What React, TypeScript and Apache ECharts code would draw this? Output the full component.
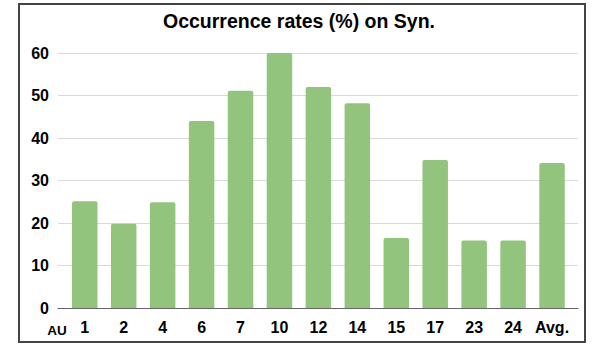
import React, { useEffect, useRef } from "react";
import * as echarts from "echarts";

const categories = ["1", "2", "4", "6", "7", "10", "12", "14", "15", "17", "23", "24", "Avg."];
const values = [25.1, 19.8, 24.9, 44.0, 51.1, 60.0, 52.0, 48.2, 16.5, 34.8, 15.9, 15.9, 34.1];
const yTicks = [0, 10, 20, 30, 40, 50, 60];
const titleText = "Occurrence rates (%) on Syn.";
const axisName = "AU";

export default function App() {
  const ref = useRef<HTMLDivElement>(null);
  useEffect(() => {
    const chart = echarts.init(ref.current!, null, { renderer: "svg" });
    const yMin = yTicks[0];
    const yMax = yTicks[yTicks.length - 1];
    chart.setOption({
      animation: false,
      backgroundColor: "#fff",
      graphic: [
        {
          type: "rect",
          shape: { x: 19, y: 4, width: 566, height: 338 },
          style: { fill: "none", stroke: "#444", lineWidth: 2 },
          z: 100,
        },
        {
          type: "text",
          x: 299,
          y: 21,
          style: {
            text: titleText,
            fontFamily: "Liberation Sans",
            fontSize: 19.5,
            fontWeight: "bold",
            fill: "#000",
            align: "center",
            verticalAlign: "middle",
          },
        },
        {
          type: "text",
          x: 57,
          y: 330,
          style: {
            text: axisName,
            fontFamily: "Liberation Sans",
            fontSize: 13.5,
            fontWeight: "bold",
            fill: "#000",
            align: "center",
            verticalAlign: "middle",
          },
        },
      ],
      grid: [
        { left: 58, right: 20, top: 53, bottom: 38, containLabel: false, outerBoundsMode: "none" },
        { left: 65.3, right: 26.5, top: 53, bottom: 38, containLabel: false, outerBoundsMode: "none" },
      ],
      xAxis: [
        {
          type: "value",
          gridIndex: 0,
          min: 0,
          max: 1,
          axisLine: { show: true, onZero: false, lineStyle: { color: "#666", width: 1.2 } },
          axisTick: { show: false },
          axisLabel: { show: false },
          splitLine: { show: false },
        },
        {
          type: "category",
          gridIndex: 1,
          data: categories,
          axisLine: { show: false },
          axisTick: { show: false },
          axisLabel: {
            interval: 0,
            fontFamily: "Liberation Sans",
            fontSize: 16,
            fontWeight: "bold",
            color: "#000",
            margin: 11,
          },
        },
      ],
      yAxis: [
        {
          type: "value",
          gridIndex: 0,
          min: yMin,
          max: yMax,
          interval: 10,
          axisLine: { show: false },
          axisTick: { show: false },
          splitLine: { lineStyle: { color: "#d9d9d9", width: 1 } },
          axisLabel: {
            fontFamily: "Liberation Sans",
            fontSize: 16,
            fontWeight: "bold",
            color: "#000",
            margin: 9,
          },
        },
        {
          type: "value",
          gridIndex: 1,
          min: yMin,
          max: yMax,
          interval: 10,
          show: false,
          splitLine: { show: false },
        },
      ],
      series: [
        {
          type: "bar",
          xAxisIndex: 1,
          yAxisIndex: 1,
          data: values,
          barWidth: 25.5,
          itemStyle: { color: "#93c47d", borderRadius: [2, 2, 0, 0] },
        },
      ],
    });
    return () => chart.dispose();
  }, []);
  return (
    <div
      ref={ref}
      style={{ position: "fixed", left: 0, top: 0, width: 598, height: 346 }}
    />
  );
}
